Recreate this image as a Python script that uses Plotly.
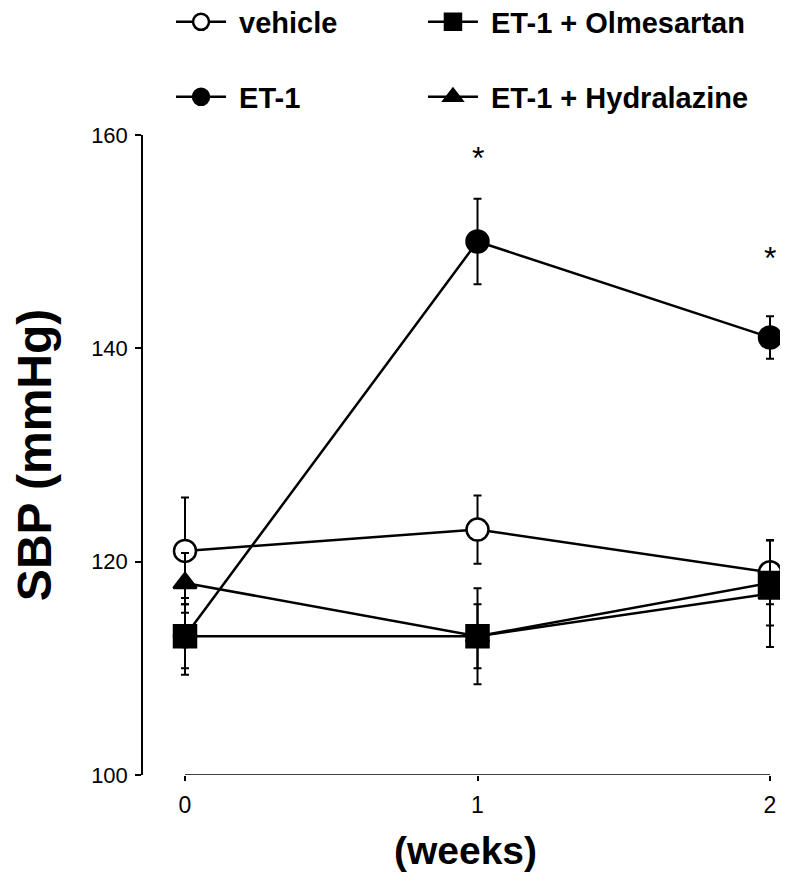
import plotly.graph_objects as go

weeks = [0, 1, 2]
tick_vals_y = [100, 120, 140, 160]

vehicle = [121, 123, 119]
vehicle_err = [5, 3.2, 3]

et1 = [113, 150, 141]
et1_err = [3, 4, 2]

olmesartan = [113, 113, 118]
olmesartan_err = [3.6, 4.5, 4]

hydralazine = [118, 113, 117]
hydralazine_err = [2.8, 3, 5]

sig_x = [1, 2]
sig_y = [157.8, 148.5]

FONT = "Liberation Sans, Arial, Helvetica, sans-serif"
LINE_W = 2.5
NB = "\u00a0"

def series(name, y, err, symbol, fill, legend):
    return go.Scatter(
        x=weeks, y=y, name=NB + name, mode="lines+markers",
        line=dict(color="black", width=LINE_W),
        marker=dict(symbol=symbol, size=22 if symbol != "triangle-up" else 20,
                    color=fill, line=dict(color="black", width=2.5)),
        error_y=dict(type="data", array=err, visible=True, color="black",
                     thickness=2, width=4),
        legend=legend, cliponaxis=False,
    )

fig = go.Figure()
fig.add_trace(series("vehicle", vehicle, vehicle_err, "circle", "white", "legend"))
fig.add_trace(series("ET-1", et1, et1_err, "circle", "black", "legend3"))
fig.add_trace(series("ET-1 + Hydralazine", hydralazine, hydralazine_err, "triangle-up", "black", "legend4"))
fig.add_trace(series("ET-1 + Olmesartan", olmesartan, olmesartan_err, "square", "black", "legend2"))

# detached x-axis baseline spanning the data range
fig.add_shape(type="line", xref="x", yref="y", x0=weeks[0], x1=weeks[-1], y0=100, y1=100,
              line=dict(color="black", width=1.5))

for sx, sy in zip(sig_x, sig_y):
    fig.add_annotation(x=sx, y=sy, text="*", showarrow=False,
                       font=dict(family=FONT, size=32, color="black"))

H = 874
leg_common = dict(orientation="h", xanchor="left", yanchor="middle",
                  xref="container", yref="container",
                  bgcolor="rgba(0,0,0,0)",
                  font=dict(family=FONT, size=29, color="black", weight="bold"),
                  itemwidth=50, tracegroupgap=0)

fig.update_layout(
    width=780, height=H,
    margin=dict(l=135, r=0, t=125, b=107),
    paper_bgcolor="white", plot_bgcolor="white",
    font=dict(family=FONT, color="black"),
    legend=dict(x=0.209, y=1 - 14 / H, **leg_common),
    legend2=dict(x=0.532, y=1 - 14 / H, **leg_common),
    legend3=dict(x=0.209, y=1 - 89 / H, **leg_common),
    legend4=dict(x=0.532, y=1 - 89 / H, **leg_common),
    xaxis=dict(range=[-0.1436, 2.0615], tickvals=weeks, ticktext=[str(w) for w in weeks],
               showline=False, showgrid=False, zeroline=False,
               ticks="outside", ticklen=5, tickwidth=1.5, tickcolor="black",
               ticklabelstandoff=4,
               tickfont=dict(family=FONT, size=23, color="black"),
               title=dict(text="<b>(weeks)</b>", font=dict(family=FONT, size=39, color="black"), standoff=20)),
    yaxis=dict(range=[100, 160], tickvals=tick_vals_y,
               showline=True, linecolor="black", linewidth=1.5,
               showgrid=False, zeroline=False,
               ticks="outside", ticklen=6, tickwidth=1.5, tickcolor="black",
               ticklabelstandoff=3,
               tickfont=dict(family=FONT, size=22, color="black"),
               title=dict(text="<b>SBP (mmHg)</b>", font=dict(family=FONT, size=48, color="black"), standoff=38)),
    showlegend=True,
)

fig.write_html("out.html")
